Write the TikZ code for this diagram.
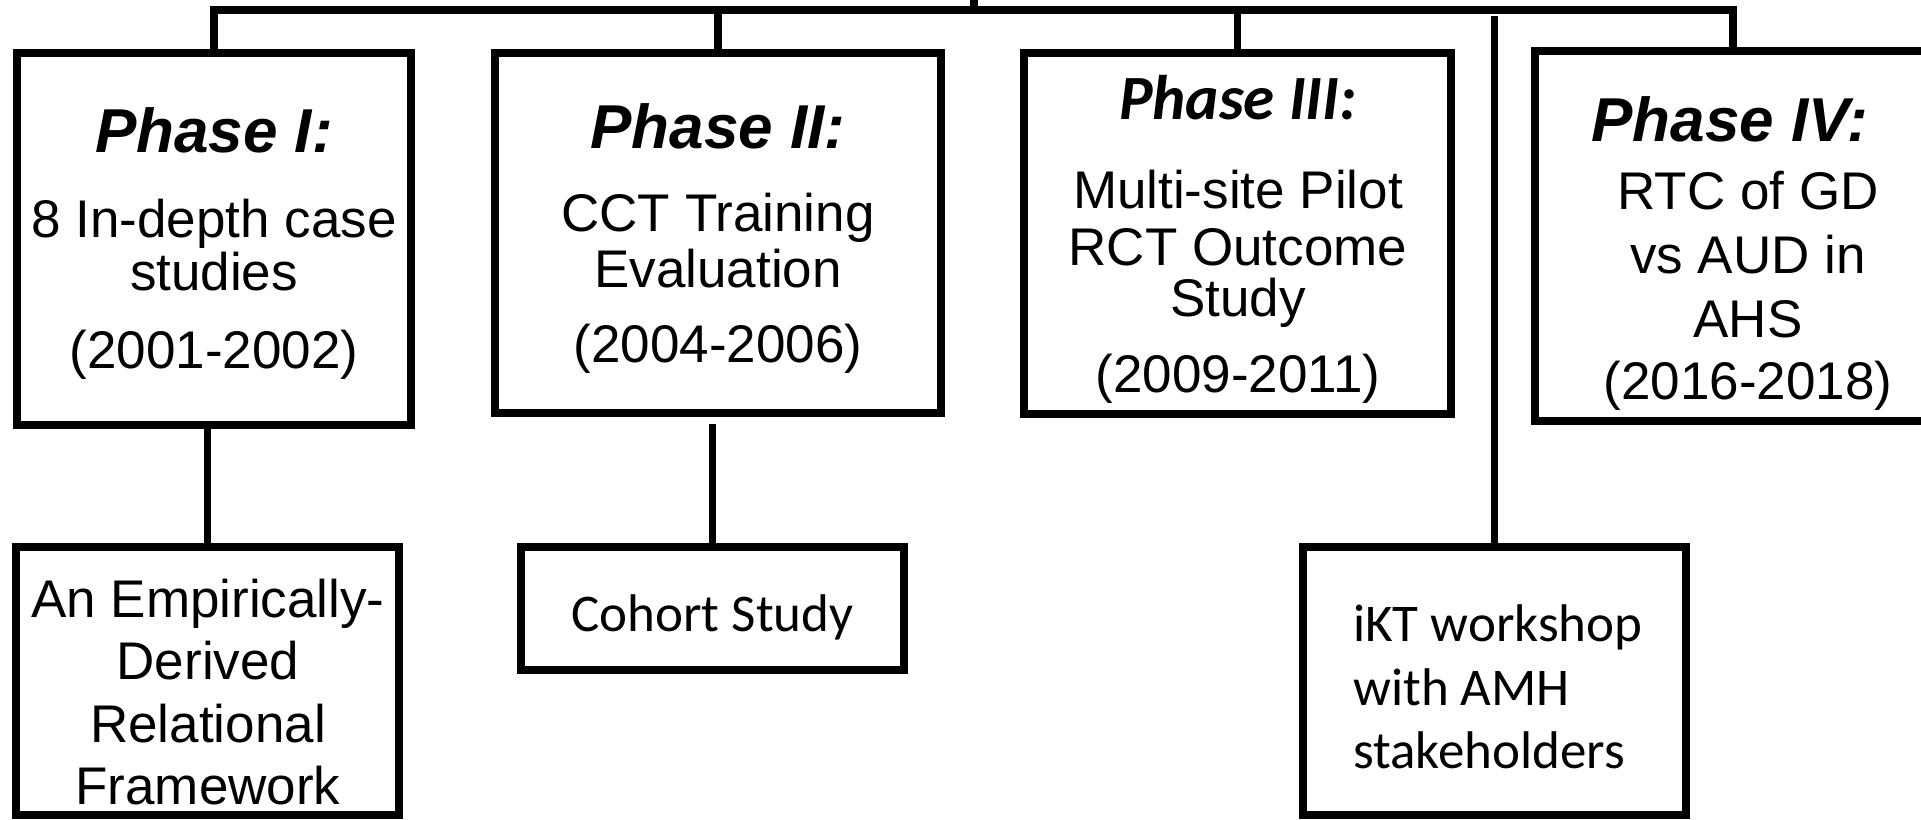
\documentclass[tikz,border=0pt]{standalone}
\usepackage{fontspec}
\setmainfont{Liberation Sans}
\newfontfamily\calib{Carlito}
\begin{document}
\begin{tikzpicture}[x=1pt,y=-1pt,
  box/.style={draw=black, line width=8pt, inner sep=0pt, outer sep=0pt, rectangle},
  conn/.style={draw=black, line width=7.5pt, line join=miter},
  txt/.style={anchor=base, inner sep=0pt, font=\fontsize{53}{60}\selectfont},
  ptitle/.style={anchor=base, inner sep=0pt, font=\fontsize{62}{70}\selectfont\bfseries\itshape},
  ctitle/.style={anchor=base, inner sep=0pt, font=\fontsize{63}{70}\selectfont\calib\bfseries\itshape},
  ctxt/.style={anchor=base, inner sep=0pt, font=\fontsize{53}{60}\selectfont\calib},
  ctxtl/.style={anchor=base west, inner sep=0pt, font=\fontsize{53}{60}\selectfont\calib}]
\useasboundingbox (0,0) rectangle (1921,819);
\clip (0,0) rectangle (1921,819);
\fill[white] (0,0) rectangle (1921,819);

% boxes
\node[box, minimum width=394pt, minimum height=372pt] (p1) at (214,239) {};
\node[box, minimum width=446pt, minimum height=360pt] (p2) at (718,233) {};
\node[box, minimum width=427pt, minimum height=361pt] (p3) at (1237.5,233.5) {};
\node[box, minimum width=465pt, minimum height=370pt] (p4) at (1767.5,236) {};
\node[box, minimum width=383pt, minimum height=268pt] (emp) at (207.5,681) {};
\node[box, minimum width=383pt, minimum height=123pt] (coh) at (712.5,608.5) {};
\node[box, minimum width=383pt, minimum height=268pt] (ikt) at (1494.5,681) {};

% connector points
\coordinate (bus) at (974,10);
\coordinate (trunktop) at (974,-6);
\coordinate (p4top) at (1733,51);
\coordinate (cohtop) at (712.5,424);
\coordinate (ikttop) at (1494.5,16);

% connectors
\draw[conn] (p1.north) |- (bus);
\draw[conn] (bus) -| (p4top);
\draw[conn] (bus) -- (trunktop);
\draw[conn] (p2.north) -- (p2.north |- bus);
\draw[conn] (p3.north) -- (p3.north |- bus);
\draw[conn] (emp.north) -- (emp.north |- p1.south);
\draw[conn] (coh.north) -- (cohtop);
\draw[conn] (ikt.north) -- (ikttop);

% Phase I text
\node[ptitle] (p1a) at (214,152) {Phase I:};
\node[txt] (p1b) at (214,237) {8 In-depth case};
\node[txt] (p1c) at (214,290) {studies};
\node[txt] (p1d) at (214,368) {(2001-2002)};

% Phase II text
\node[ptitle] (p2a) at (718,148) {Phase II:};
\node[txt] (p2b) at (718,231) {CCT Training};
\node[txt] (p2c) at (718,287) {Evaluation};
\node[txt] (p2d) at (718,362) {(2004-2006)};

% Phase III text
\node[ctitle] (p3a) at (1238,119) {Phase III:};
\node[txt] (p3b) at (1238,208) {Multi-site Pilot};
\node[txt] (p3c) at (1238,265) {RCT Outcome};
\node[txt] (p3d) at (1238,316) {Study};
\node[txt] (p3e) at (1238,392) {(2009-2011)};

% Phase IV text
\node[ptitle] (p4a) at (1730,141) {Phase IV:};
\node[txt] (p4b) at (1748,209) {RTC of GD};
\node[txt] (p4c) at (1748,273) {vs AUD in};
\node[txt] (p4d) at (1748,337) {AHS};
\node[txt] (p4e) at (1748,399) {(2016-2018)};

% Empirical framework text
\node[txt] (e1) at (208,617) {An Empirically-};
\node[txt] (e2) at (208,679) {Derived};
\node[txt] (e3) at (208,742) {Relational};
\node[txt] (e4) at (208,804) {Framework};

% Cohort text
\node[ctxt] (c1) at (712.5,631) {Cohort Study};

% iKT text
\node[ctxtl] (k1) at (1353,641) {iKT workshop};
\node[ctxtl] (k2) at (1353,705) {with AMH};
\node[ctxtl] (k3) at (1353,768) {stakeholders};
\end{tikzpicture}
\end{document}
